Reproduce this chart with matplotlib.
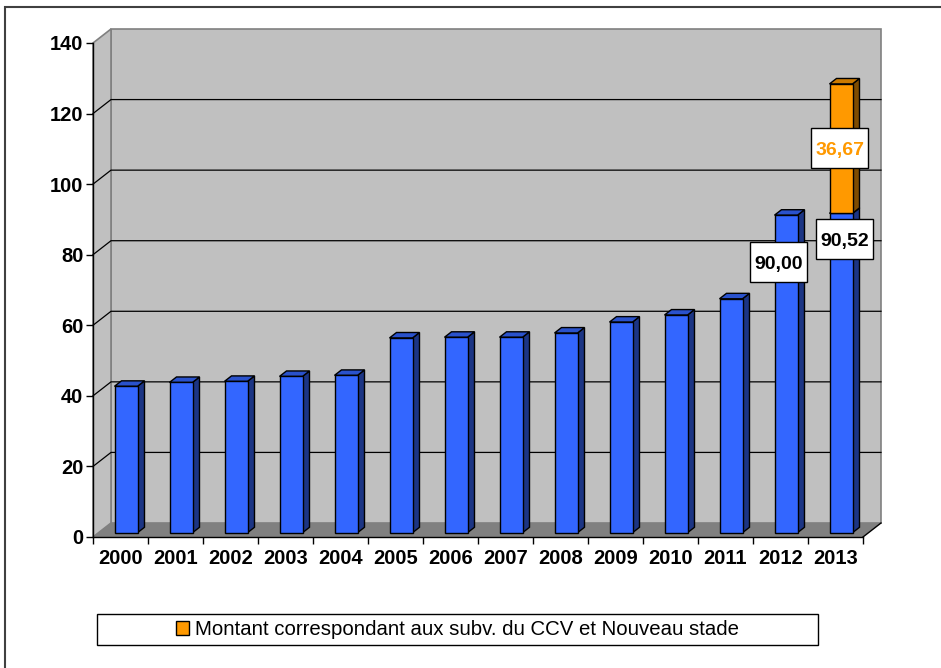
import numpy as np
import matplotlib
matplotlib.use('Agg')
import matplotlib.pyplot as plt
from matplotlib.patches import Polygon, Rectangle, Patch

# Données
years = ['2000', '2001', '2002', '2003', '2004', '2005', '2006',
         '2007', '2008', '2009', '2010', '2011', '2012', '2013']
base = [41.5, 42.6, 42.9, 44.3, 44.6, 55.2, 55.4,
        55.4, 56.6, 59.7, 61.7, 66.3, 90.00, 90.52]
subv = [0, 0, 0, 0, 0, 0, 0, 0, 0, 0, 0, 0, 0, 36.67]
legend_label = 'Montant correspondant aux subv. du CCV et Nouveau stade'


def fmt(v):
    return f'{v:.2f}'.replace('.', ',')


def draw_bar(ax, x, b, t, front, side, top):
    # barre "3D" : face avant, côté, dessus
    xl = x - BW / 2 + F0 * DX
    xr = x + BW / 2 + F0 * DX
    b0, t0 = b + F0 * DY, t + F0 * DY
    ddx, ddy = BD * DX, BD * DY
    ax.add_patch(Polygon([(xr, b0), (xr, t0), (xr + ddx, t0 + ddy), (xr + ddx, b0 + ddy)],
                         fc=side, ec='black', lw=1, clip_on=False, zorder=3))
    ax.add_patch(Polygon([(xl, t0), (xr, t0), (xr + ddx, t0 + ddy), (xl + ddx, t0 + ddy)],
                         fc=top, ec='black', lw=1, clip_on=False, zorder=3))
    ax.add_patch(Rectangle((xl, b0), BW, t - b, fc=front, ec='black', lw=1,
                           clip_on=False, zorder=4))


def draw_label(ax, x, y, txt, color='black'):
    # étiquette dans un cadre blanc de taille fixe
    w, h = 57 / ppx, 40 / ppy
    ax.add_patch(Rectangle((x - w / 2, y - h / 2), w, h, fc='white', ec='black', lw=1,
                           clip_on=False, zorder=6))
    ax.text(x, y, txt, ha='center', va='center_baseline', fontsize=14, fontweight='bold',
            color=color, zorder=7)


plt.rcParams['font.family'] = ['Liberation Sans', 'DejaVu Sans']

W, H = 941, 668
fig = plt.figure(figsize=(W / 100, H / 100), dpi=100)
ax = fig.add_axes([93 / W, 1 - 537 / H, 770 / W, 494 / H])
ax.set_xlim(-0.5, len(years) - 0.5)
ax.set_ylim(0, 140)
ax.patch.set_visible(False)

# profondeur de la perspective, en unités de données
ppx, ppy = 770 / 14, 494 / 140
DX, DY = 18 / ppx, 14 / ppy
BW = 23 / ppx
F0, BD = 5.5 / 18, 7 / 18

x0, x1 = -0.5, len(years) - 0.5
ymax = 140

# murs et sol
ax.add_patch(Rectangle((x0 + DX, DY), x1 - x0, ymax, fc='#c0c0c0', ec='#808080',
                       lw=1.2, clip_on=False, zorder=0))
ax.add_patch(Polygon([(x0, 0), (x0 + DX, DY), (x0 + DX, ymax + DY), (x0, ymax)],
                     fc='#c0c0c0', ec='#808080', lw=1.2, clip_on=False, zorder=0))
for v in range(20, ymax, 20):
    ax.plot([x0, x0 + DX, x1 + DX], [v, v + DY, v + DY], color='black', lw=0.9,
            clip_on=False, zorder=1)
ax.add_patch(Polygon([(x0, 0), (x1, 0), (x1 + DX, DY), (x0 + DX, DY)],
                     fc='#808080', ec='none', clip_on=False, zorder=1))
ax.plot([x1, x1 + DX], [0, DY], color='black', lw=1, clip_on=False, zorder=2)

# barres
for i in range(len(years)):
    draw_bar(ax, i, 0, base[i], '#3366ff', '#1c3584', '#2a52cc')
    if subv[i] > 0:
        draw_bar(ax, i, base[i], base[i] + subv[i], '#ff9900', '#7f4c00', '#cc7a00')

# étiquettes
draw_label(ax, 11.97, 77.9, fmt(base[12]))
draw_label(ax, 13.16, 84.4, fmt(base[13]))
draw_label(ax, 13.08, 110.2, fmt(subv[13]), color='#ff9900')

# axes
for s in ['top', 'right']:
    ax.spines[s].set_visible(False)
for s in ['left', 'bottom']:
    ax.spines[s].set_color('black')
    ax.spines[s].set_linewidth(1)
    ax.spines[s].set_zorder(5)
ax.set_yticks(range(0, ymax + 1, 20))
ax.set_yticklabels([str(v) for v in range(0, ymax + 1, 20)], fontsize=14.5, fontweight='bold')
ax.set_xticks(np.arange(x0, x1 + 0.1, 1))
ax.set_xticklabels([])
ax.set_xticks(np.arange(len(years)), minor=True)
ax.set_xticklabels(years, minor=True, fontsize=14.5, fontweight='bold')
ax.tick_params(axis='both', which='major', direction='out', length=5, width=1, color='black')
ax.tick_params(axis='y', pad=2)
ax.tick_params(axis='x', which='minor', length=0, pad=9)

# légende
fig.patches.append(Rectangle((97 / W, 1 - 645 / H), 721 / W, 31 / H, transform=fig.transFigure,
                             fill=False, ec='black', lw=1))
fig.legend(handles=[Patch(fc='#ff9900', ec='black')], labels=[legend_label],
           loc='center', bbox_to_anchor=((97 + 360.5) / W, 1 - 629.5 / H), frameon=False,
           fontsize=14.7, handlelength=0.65, handleheight=0.65, handletextpad=0.3)

# cadre extérieur
fig.patches.append(Rectangle((5 / W, -0.1), 1.1, 1.1 - 7 / H, transform=fig.transFigure,
                             fill=False, ec='#404040', lw=1.5))

fig.savefig('out.png', dpi=100)
